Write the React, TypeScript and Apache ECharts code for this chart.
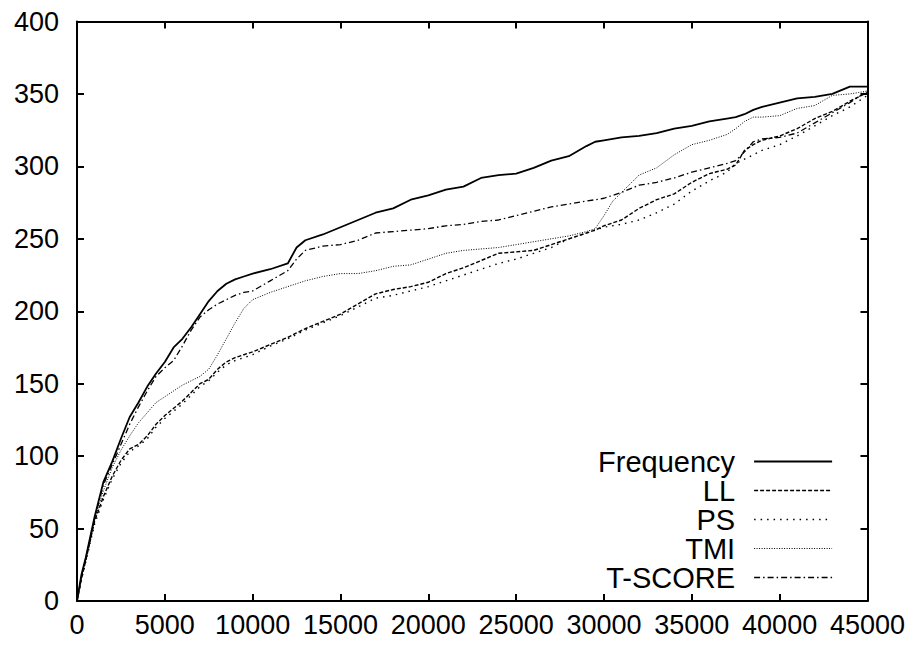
import React, { useEffect, useRef } from "react";
import * as echarts from "echarts";

const X = [0, 250, 500, 1000, 1500, 2000, 2500, 3000, 3500, 4000, 4500, 5000, 5500, 6000, 6500, 7000, 7500, 8000, 8500, 9000, 9500, 10000, 11000, 12000, 12500, 13000, 14000, 15000, 16000, 17000, 18000, 19000, 20000, 21000, 22000, 23000, 24000, 25000, 26000, 27000, 28000, 29000, 29500, 30000, 30500, 31000, 32000, 33000, 34000, 35000, 36000, 37000, 37500, 38000, 38500, 39000, 40000, 41000, 42000, 43000, 44000, 44500, 45000];

const FREQUENCY = [0, 18, 30, 58, 82, 96, 112, 127, 137, 148, 157, 165, 175, 181, 189, 198, 207, 214, 219, 222, 224, 226, 229, 233, 244, 249, 253, 258, 263, 268, 271, 277, 280, 284, 286, 292, 294, 295, 299, 304, 307, 314, 317, 318, 319, 320, 321, 323, 326, 328, 331, 333, 334, 336, 339, 341, 344, 347, 348, 350, 355, 355, 355];

const LL = [0, 15, 28, 55, 72, 86, 97, 105, 108, 114, 122, 128, 133, 138, 144, 150, 153, 160, 165, 168, 170, 172, 177, 182, 185, 188, 193, 198, 205, 212, 215, 217, 220, 226, 230, 235, 240, 241, 242, 246, 250, 254, 256, 259, 261, 263, 271, 277, 281, 289, 295, 298, 301, 311, 315, 318, 321, 326, 333, 338, 345, 348, 351];

const PS = [0, 15, 27, 53, 70, 84, 95, 103, 107, 112, 120, 126, 131, 136, 142, 148, 152, 158, 163, 166, 168, 170, 176, 181, 184, 187, 192, 197, 203, 209, 211, 214, 217, 221, 225, 229, 233, 236, 240, 244, 250, 254, 256, 258, 259, 260, 263, 268, 274, 283, 290, 296, 302, 305, 308, 311, 315, 321, 328, 335, 341, 345, 349];

const TMI = [0, 16, 29, 56, 76, 92, 104, 114, 123, 130, 137, 141, 145, 149, 152, 155, 160, 170, 181, 192, 202, 208, 213, 217, 219, 221, 224, 226, 226, 228, 231, 232, 236, 240, 242, 243, 244, 246, 248, 250, 252, 255, 257, 266, 276, 282, 294, 299, 308, 315, 318, 322, 326, 331, 334, 334, 335, 340, 342, 349, 350, 351, 352];

const TSCORE = [0, 17, 29, 57, 80, 94, 108, 122, 134, 145, 155, 161, 166, 176, 187, 196, 201, 205, 208, 211, 213, 214, 221, 228, 236, 242, 245, 246, 249, 254, 255, 256, 257, 259, 260, 262, 263, 266, 269, 272, 274, 276, 277, 278, 280, 282, 287, 289, 292, 296, 299, 302, 304, 310, 317, 319, 320, 323, 330, 337, 344, 348, 352];

const SERIES_NAMES = ["Frequency", "LL", "PS", "TMI", "T-SCORE"];
const SERIES_VALUES = [FREQUENCY, LL, PS, TMI, TSCORE];
const LINE_STYLES: any[] = [
  { width: 1.8, type: "solid" },
  { width: 1.4, type: [4, 2] },
  { width: 1.4, type: [1.5, 5] },
  { width: 1, type: [1, 1.5] },
  { width: 1.3, type: [6, 3, 1.5, 3] },
];

const FONT = "'Liberation Sans', Arial, Helvetica, sans-serif";

export default function App() {
  const ref = useRef<HTMLDivElement>(null);
  useEffect(() => {
    if (!ref.current) return;
    const chart = echarts.init(ref.current, null, { renderer: "svg" });
    const axisCommon = {
      type: "value",
      axisLine: { show: true, onZero: false, lineStyle: { color: "#000", width: 2 } },
      axisTick: { show: true, inside: true, length: 7, lineStyle: { color: "#000", width: 2 } },
      splitLine: { show: false },
    };
    chart.setOption({
      animation: false,
      backgroundColor: "#fff",
      grid: { left: 69, right: 38, top: 13, bottom: 36, containLabel: false },
      xAxis: [
        {
          ...axisCommon,
          position: "bottom",
          min: 0,
          max: 45000,
          interval: 5000,
          axisLabel: {
            color: "#000",
            fontSize: 27,
            fontFamily: FONT,
            margin: 10,
            formatter: (v: number) => String(v),
          },
        },
        {
          ...axisCommon,
          position: "top",
          min: 0,
          max: 45000,
          interval: 5000,
          axisLabel: { show: false },
        },
      ],
      yAxis: [
        {
          ...axisCommon,
          position: "left",
          min: 0,
          max: 400,
          interval: 50,
          axisLabel: {
            color: "#000",
            fontSize: 27,
            fontFamily: FONT,
            margin: 18,
            formatter: (v: number) => String(v),
          },
        },
        {
          ...axisCommon,
          position: "right",
          min: 0,
          max: 400,
          interval: 50,
          axisLabel: { show: false },
        },
      ],
      legend: {
        orient: "vertical",
        align: "right",
        right: 70,
        top: 434,
        itemWidth: 78,
        itemHeight: 14,
        itemGap: 0,
        textStyle: {
          color: "#000",
          fontSize: 29,
          fontFamily: FONT,
          padding: [0, 14, 0, 0],
        },
        data: SERIES_NAMES.map((n, i) => ({
          name: n,
          lineStyle: { color: "#000", ...LINE_STYLES[i] },
          itemStyle: { color: "rgba(0,0,0,0)", borderWidth: 0, opacity: 0 },
        })),
      },
      series: SERIES_NAMES.map((name, i) => ({
        name,
        type: "line",
        xAxisIndex: 0,
        yAxisIndex: 0,
        symbol: "none",
        showSymbol: false,
        data: X.map((x, j) => [x, SERIES_VALUES[i][j]]),
        lineStyle: { color: "#000", ...LINE_STYLES[i] },
        itemStyle: { color: "#000" },
      })),
    });
    return () => chart.dispose();
  }, []);
  return <div ref={ref} style={{ width: 900, height: 630 }} />;
}
